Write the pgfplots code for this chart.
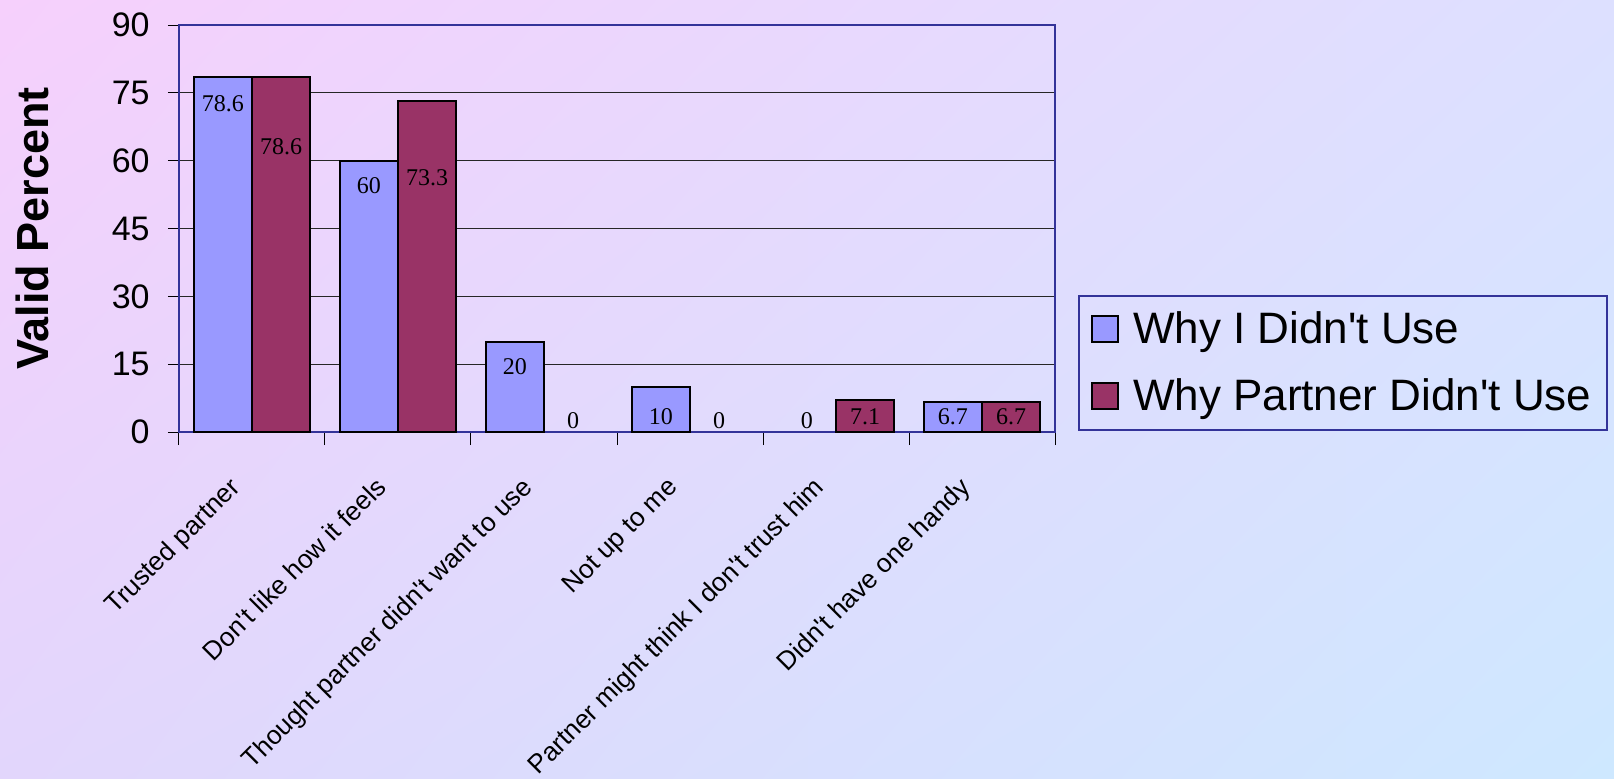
\documentclass[border=0pt]{standalone}
\usepackage{fontspec}
\setmainfont{Liberation Sans}
\newfontfamily\serif{Liberation Serif}
\usepackage{pgfplots}
\usetikzlibrary{shadings}
\pgfplotsset{compat=1.18}
\definecolor{barblue}{RGB}{153,153,255}
\definecolor{barred}{RGB}{153,51,102}
\definecolor{frame}{RGB}{51,51,153}
\definecolor{bgTL}{RGB}{246,208,252}
\definecolor{bgTR}{RGB}{221,224,255}
\definecolor{bgBL}{RGB}{226,214,252}
\definecolor{bgBR}{RGB}{206,232,255}
\newcommand{\q}{\textquotesingle}
\begin{document}
\begin{tikzpicture}
\useasboundingbox (0,0) rectangle (807pt,389pt);
\shade[upper left=bgTL, upper right=bgTR, lower left=bgBL, lower right=bgBR] (0,0) rectangle (807pt,389pt);
\begin{axis}[
  at={(89.5pt,173pt)}, anchor=south west,
  scale only axis, width=438pt, height=203.5pt,
  xmin=-0.5, xmax=5.5, ymin=0, ymax=90,
  ytick={0,15,...,90},
  xtick={0,...,5},
  xticklabels={Trusted partner, Don\q t like how it feels, Thought partner didn\q t want to use, Not up to me, Partner might think I don\q t trust him, Didn\q t have one handy},
  minor xtick={-0.5,0.5,...,5.5},
  tick align=outside, xtick pos=bottom, ytick pos=left,
  major tick length=5.5pt, minor tick length=6.5pt,
  major x tick style={draw=none},
  minor x tick style={black, line width=0.5pt},
  major y tick style={black, line width=0.5pt},
  ymajorgrids, grid style={black!85, line width=0.5pt},
  axis line style={draw=frame, line width=1.2pt},
  /pgf/number format/assume math mode=true,
  yticklabel style={font=\fontsize{17}{20}\selectfont, inner sep=0pt, xshift=-9pt},
  xticklabel style={font=\fontsize{13.1}{15}\selectfont, xshift=-12pt, yshift=-16pt, rotate=45, anchor=north east, inner sep=0pt},
  ylabel={Valid Percent},
  ylabel style={font=\fontsize{22.5}{26}\selectfont\bfseries, at={(axis description cs:-0.167,0.5)}, anchor=center},
  legend style={at={(1.0263,0.3366)}, anchor=north west, draw=frame, line width=1pt, fill=none,
    font=\fontsize{22}{26}\selectfont, inner xsep=6pt, inner ysep=6pt, row sep=12pt,
    /tikz/every even column/.append style={column sep=4pt}},
  legend cell align=left,
  legend image code/.code={\draw[#1, draw=black, line width=1pt] (0pt,-6.5pt) rectangle (13pt,6.5pt);},
  legend style={/tikz/every odd column/.append style={column sep=5pt}},
]
\addplot[ybar, bar width=0.4, bar shift=-0.2, fill=barblue, draw=black, line width=1pt]
  coordinates {(0,78.6) (1,60) (2,20) (3,10) (5,6.7)};
\addlegendentry{Why I Didn\q t Use}
\addplot[ybar, bar width=0.4, bar shift=0.2, fill=barred, draw=black, line width=1pt]
  coordinates {(0,78.6) (1,73.3) (4,7.1) (5,6.7)};
\addlegendentry{Why Partner Didn\q t Use}
\addplot[forget plot, draw=none, mark=none, nodes near coords, point meta=explicit symbolic,
  nodes near coords style={font=\serif\fontsize{12}{14}\selectfont, anchor=center, inner sep=0pt, text=black}]
  coordinates {(-0.2,72.7) [78.6] (0.8,54.4) [60] (1.8,14.4) [20] (2.8,3.3) [10] (3.8,2.5) [0] (4.8,3.4) [6.7]};
\addplot[forget plot, draw=none, mark=none, nodes near coords, point meta=explicit symbolic,
  nodes near coords style={font=\serif\fontsize{12}{14}\selectfont, anchor=center, inner sep=0pt, text=black}]
  coordinates {(0.2,63.0) [78.6] (1.2,56.2) [73.3] (2.2,2.5) [0] (3.2,2.5) [0] (4.2,3.4) [7.1] (5.2,3.4) [6.7]};
\end{axis}
\end{tikzpicture}
\end{document}
